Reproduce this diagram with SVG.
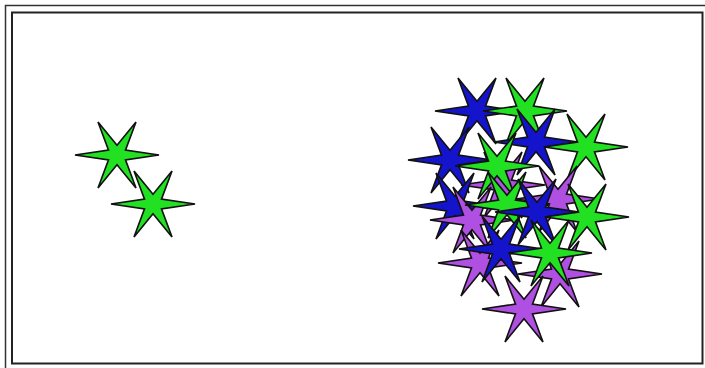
<svg xmlns="http://www.w3.org/2000/svg" xmlns:xlink="http://www.w3.org/1999/xlink" width="705" height="368" viewBox="0 0 705 368">
<defs>
<style>
.g{fill:#22e022}
.b{fill:#1414cc}
.p{fill:#b050e2}
use{stroke:#111;stroke-width:1.6;stroke-linejoin:miter}
</style>
<path id="star" d="M42,0 L8.5,4.9 L19,33 L0,9.8 L-19,33 L-8.5,4.9 L-42,0 L-8.5,-4.9 L-19,-33 L0,-9.8 L19,-33 L8.5,-4.9 Z"/>
</defs>
<rect width="705" height="368" fill="#fff"/>
<path d="M5.5,368 V5.5 H705" fill="none" stroke="#333" stroke-width="1.5"/>
<rect x="12" y="12.5" width="690.5" height="351" fill="none" stroke="#222" stroke-width="2"/>
<g id="left-stars">
<use href="#star" class="g" x="117" y="155"/>
<use href="#star" class="g" x="153" y="204"/>
</g>
<g id="cluster">
<use href="#star" class="p" x="503" y="185"/>
<use href="#star" class="b" x="477" y="111"/>
<use href="#star" class="g" x="525" y="111"/>
<use href="#star" class="b" x="450" y="160"/>
<use href="#star" class="b" x="536" y="142"/>
<use href="#star" class="g" x="586" y="147"/>
<use href="#star" class="g" x="497" y="166"/>
<use href="#star" class="b" x="455" y="206"/>
<use href="#star" class="p" x="472" y="220"/>
<use href="#star" class="g" x="507" y="205"/>
<use href="#star" class="p" x="558" y="199"/>
<use href="#star" class="b" x="537" y="212"/>
<use href="#star" class="g" x="587" y="217"/>
<use href="#star" class="p" x="480" y="263"/>
<use href="#star" class="b" x="501" y="249"/>
<use href="#star" class="p" x="560" y="274"/>
<use href="#star" class="g" x="550" y="253"/>
<use href="#star" class="p" x="524" y="309"/>
</g>
</svg>
